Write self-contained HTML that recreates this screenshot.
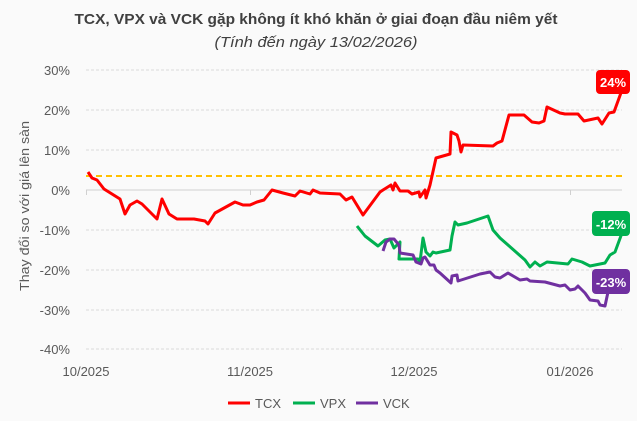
<!DOCTYPE html><html><head><meta charset="utf-8"><style>body{margin:0;background:#fafafa}svg{display:block;font-family:"Liberation Sans",sans-serif}</style></head><body>
<svg width="637" height="421" viewBox="0 0 637 421">
<rect width="637" height="421" fill="#fafafa"/>
<text x="316" y="24" text-anchor="middle" font-size="15" font-weight="bold" fill="#404040" textLength="483" lengthAdjust="spacingAndGlyphs">TCX, VPX và VCK gặp không ít khó khăn ở giai đoạn đầu niêm yết</text>
<text x="316" y="47" text-anchor="middle" font-size="15" font-style="italic" fill="#404040" textLength="203" lengthAdjust="spacingAndGlyphs">(Tính đến ngày 13/02/2026)</text>
<g stroke="#d9d9d9" stroke-dasharray="3,2" stroke-width="1">
<line x1="86" x2="622" y1="70" y2="70"/><line x1="86" x2="622" y1="110" y2="110"/><line x1="86" x2="622" y1="150" y2="150"/><line x1="86" x2="622" y1="230" y2="230"/><line x1="86" x2="622" y1="270" y2="270"/><line x1="86" x2="622" y1="310" y2="310"/><line x1="86" x2="622" y1="349" y2="349"/></g>
<g stroke="#d0d0d0" stroke-width="1"><line x1="86" x2="622" y1="190" y2="190"/><line x1="86.5" x2="86.5" y1="190" y2="195"/><line x1="250.5" x2="250.5" y1="190" y2="195"/><line x1="414.5" x2="414.5" y1="190" y2="195"/><line x1="570.5" x2="570.5" y1="190" y2="195"/></g>
<g font-size="13" fill="#595959" text-anchor="end"><text x="70" y="75">30%</text><text x="70" y="115">20%</text><text x="70" y="155">10%</text><text x="70" y="195">0%</text><text x="70" y="235">-10%</text><text x="70" y="275">-20%</text><text x="70" y="315">-30%</text><text x="70" y="354">-40%</text></g>
<g font-size="13" fill="#595959" text-anchor="middle"><text x="86" y="376">10/2025</text><text x="250" y="376">11/2025</text><text x="414" y="376">12/2025</text><text x="570" y="376">01/2026</text></g>
<text transform="translate(29,206) rotate(-90)" text-anchor="middle" font-size="13" fill="#595959" textLength="170" lengthAdjust="spacingAndGlyphs">Thay đổi so với giá lên sàn</text>
<line x1="86" x2="626" y1="176" y2="176" stroke="#ffc000" stroke-width="2" stroke-dasharray="6,4"/>
<g fill="none" stroke-width="3" stroke-linejoin="round">
<polyline stroke="#ff0000" points="88,172 92,178 97,180 104,189 112,194 120,199 125,214 130,205 137,201 142,204 157,219 162,199 169,214 177,219 194,219 205,221 208,224 215,213 235,202 243,205 250,205 257,202 264,200 272,190 283,193 295,196 300,191 310,194 313,190 320,193 340,194 346,200 352,197 363,215 380,192 383,190 391,185 393,190 395,183 400,191 408,191 412,194 419,192 420,197 425,190 426,198 430,185 436,158 450,154 451,132 457,135 459,141 461,152 463,145 493,146 497,143 502,141 509,115 524,115 532,122 539,123 544,121 547,107 560,113 565,114 578,114 584,121 598,118 602,124 609,113 614,112 622,90"/>
<polyline stroke="#00b050" points="357,226 365,236 378,246 385,240 390,239 394,248 400,242 399,259 418,259 420,262 423,238 426,252 430,256 433,252 436,253 450,250 452,236 455,222 458,225 467,223 488,216 493,230 500,238 525,260 530,267 535,262 540,266 547,262 568,264 572,259 582,262 590,266 605,263 610,255 615,252 622,233"/>
<polyline stroke="#7030a0" points="383,251 386,242 390,239 394,239 399,245 400,253 413,255 416,262 421,264 423,258 425,257 430,265 434,265 436,270 440,273 451,283 452,276 457,275 458,281 480,274 490,272 495,277 500,278 508,273 520,280 527,279 530,281 545,282 560,286 565,285 570,290 575,289 578,286 585,293 590,300 598,301 600,305 605,306 608,292"/>
</g>
<rect x="596" y="70" width="34" height="24" rx="4" fill="#ff0000"/><text x="613" y="87" text-anchor="middle" font-size="13" font-weight="bold" fill="#fff">24%</text>
<rect x="592" y="211" width="38" height="25" rx="4" fill="#00b050"/><text x="611" y="229" text-anchor="middle" font-size="13" font-weight="bold" fill="#fff">-12%</text>
<rect x="592" y="269" width="38" height="25" rx="4" fill="#7030a0"/><text x="611" y="287" text-anchor="middle" font-size="13" font-weight="bold" fill="#fff">-23%</text>
<g stroke-width="3"><line x1="228" x2="250" y1="403" y2="403" stroke="#ff0000"/><line x1="293" x2="315" y1="403" y2="403" stroke="#00b050"/><line x1="356" x2="378" y1="403" y2="403" stroke="#7030a0"/></g>
<g font-size="13" fill="#595959"><text x="255" y="408">TCX</text><text x="320" y="408">VPX</text><text x="383" y="408">VCK</text></g>
</svg></body></html>
